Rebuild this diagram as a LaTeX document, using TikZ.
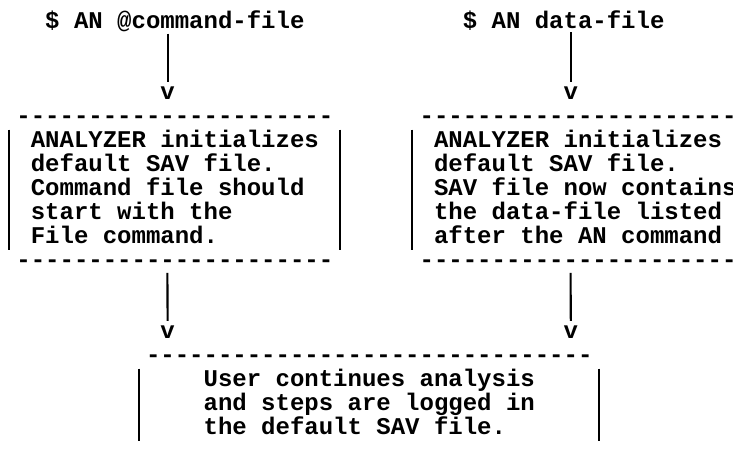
\documentclass[tikz,border=0pt]{standalone}
\usepackage{fontspec}
\setmonofont{Liberation Mono}
\begin{document}
\begin{tikzpicture}[
  ascii/.style={font=\ttfamily\bfseries\fontsize{24}{24}\selectfont,
                inner sep=0pt, anchor=base west, text=black},
  pipe/.style={line width=2.1pt, draw=black}
]
\useasboundingbox (0pt,0pt) rectangle (733pt,-450pt);
% character grid: one unit = one column / one text row
\begin{scope}[shift={(1.8pt,-28pt)}, x=14.4pt, y=-23.9pt]

  % start commands
  \node[ascii] (cmdL) at (3,0)  {\$ AN @command-file};
  \node[ascii] (cmdR) at (32,0) {\$ AN data-file};

  % arrow heads into the two boxes
  \node[ascii] (vL1) at (11,3) {v};
  \node[ascii] (vR1) at (39,3) {v};
  \draw[pipe] ([yshift=-2pt]cmdL.south -| vL1.center) -- ([yshift=5pt]vL1.north);
  \draw[pipe] ([yshift=-2pt]cmdR.south -| vR1.center) -- ([yshift=5pt]vR1.north);

  % left box
  \node[ascii] (dLt) at (1,4)  {----------------------};
  \node[ascii] (l1)  at (2,5)  {ANALYZER initializes};
  \node[ascii] (l2)  at (2,6)  {default SAV file.};
  \node[ascii] (l3)  at (2,7)  {Command file should};
  \node[ascii] (l4)  at (2,8)  {start with the};
  \node[ascii] (l5)  at (2,9)  {File command.};
  \node[ascii] (dLb) at (1,10) {----------------------};
  \coordinate (lwT) at (0.5,4.25);  \coordinate (lwB) at (0.5,9.27);
  \coordinate (leT) at (23.5,4.25); \coordinate (leB) at (23.5,9.27);
  \draw[pipe] (lwT) -- (lwB);
  \draw[pipe] (leT) -- (leB);

  % right box
  \node[ascii] (dRt) at (29,4)  {----------------------};
  \node[ascii] (r1)  at (30,5)  {ANALYZER initializes};
  \node[ascii] (r2)  at (30,6)  {default SAV file.};
  \node[ascii] (r3)  at (30,7)  {SAV file now contains};
  \node[ascii] (r4)  at (30,8)  {the data-file listed};
  \node[ascii] (r5)  at (30,9)  {after the AN command};
  \node[ascii] (dRb) at (29,10) {----------------------};
  \coordinate (rwT) at (28.5,4.25); \coordinate (rwB) at (28.5,9.27);
  \coordinate (reT) at (51.5,4.25); \coordinate (reB) at (51.5,9.27);
  \draw[pipe] (rwT) -- (rwB);
  \draw[pipe] (reT) -- (reB);

  % arrows into the common box
  \node[ascii] (vL2) at (11,13) {v};
  \node[ascii] (vR2) at (39,13) {v};
  \coordinate (sL) at (11.5,10.25);
  \coordinate (sR) at (39.5,10.25);
  \draw[pipe] (sL) -- ([yshift=5pt]vL2.north);
  \draw[pipe] (sR) -- ([yshift=5pt]vR2.north);

  % common box
  \node[ascii] (dBt) at (10,14) {-------------------------------};
  \node[ascii] (b1)  at (14,15) {User continues analysis};
  \node[ascii] (b2)  at (14,16) {and steps are logged in};
  \node[ascii] (b3)  at (14,17) {the default SAV file.};
  \coordinate (bwT) at (9.5,14.25);  \coordinate (bwB) at (9.5,17.3);
  \coordinate (beT) at (41.5,14.25); \coordinate (beB) at (41.5,17.3);
  \draw[pipe] (bwT) -- (bwB);
  \draw[pipe] (beT) -- (beB);
\end{scope}
\end{tikzpicture}
\end{document}
